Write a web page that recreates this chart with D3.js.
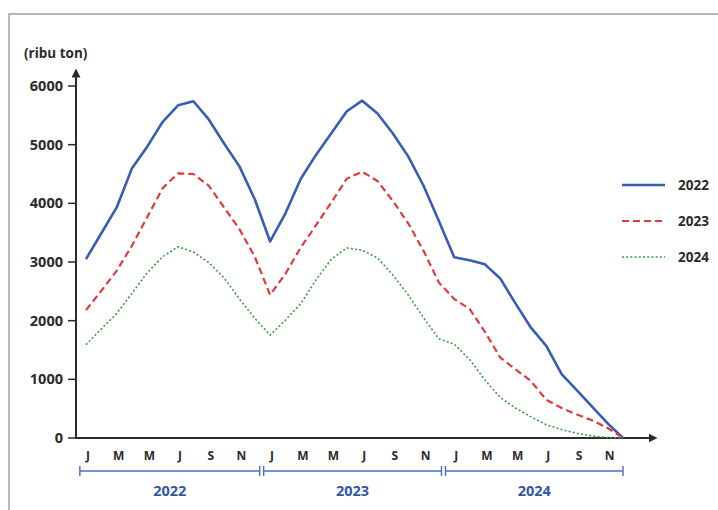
<!DOCTYPE html>
<html>
<head>
<meta charset="utf-8">
<script src="https://cdn.jsdelivr.net/npm/d3@7"></script>
<style>
  body { margin: 0; background: #fff; }
  svg { font-family: "Open Sans", "Noto Sans", sans-serif; }
  .tick-label { font-size: 14.5px; font-weight: 700; fill: #2b2b2b; }
  .legend-label { font-size: 13.5px; font-weight: 700; fill: #2b2b2b; }
  .month { font-size: 12px; font-weight: 700; fill: #2b2b2b; }
  .year { font-size: 14.5px; font-weight: 700; fill: #3556a8; }
</style>
</head>
<body>
<svg id="chart" width="718" height="510"></svg>
<script>
// monthly values, Jan 2022 .. Dec 2024 (ribu ton)
var monthLetters = ["J", "F", "M", "A", "M", "J", "J", "A", "S", "O", "N", "D"];
var years = ["2022", "2023", "2024"];
var yTicks = [0, 1000, 2000, 3000, 4000, 5000, 6000];

var series2022 = [3050, 3490, 3930, 4600, 4970, 5390, 5670, 5740, 5430, 5020, 4630, 4070,
                  3350, 3830, 4420, 4830, 5200, 5570, 5750, 5530, 5190, 4800, 4300, 3700,
                  3080, 3030, 2960, 2720, 2290, 1880, 1570, 1090, 810, 530, 250, 0];
var series2023 = [2180, 2510, 2850, 3280, 3770, 4260, 4510, 4500, 4300, 3930, 3560, 3090,
                  2440, 2800, 3250, 3630, 4020, 4420, 4540, 4380, 4040, 3660, 3190, 2650,
                  2370, 2200, 1810, 1370, 1170, 970, 650, 510, 400, 300, 170, 0];
var series2024 = [1590, 1860, 2120, 2470, 2820, 3090, 3260, 3170, 2990, 2730, 2370, 2040,
                  1755, 2010, 2290, 2700, 3050, 3240, 3200, 3070, 2780, 2440, 2050, 1690,
                  1600, 1340, 990, 690, 510, 360, 225, 145, 80, 35, 8, 0];

var seriesNames = ["2022", "2023", "2024"];
var seriesData = [series2022, series2023, series2024];
var seriesColors = ["#3a5cb8", "#e23a3e", "#3e9c45"];
var seriesDash = [null, "7,4", "2,2.2"];
var seriesWidth = [2.6, 2.2, 1.6];

var svg = d3.select("#chart");

// frame
svg.append("path")
    .attr("d", "M9,520 L9,14 L730,14")
    .attr("fill", "none")
    .attr("stroke", "#a0a0a0")
    .attr("stroke-width", 1.5);

var x = d3.scaleLinear().domain([0, 35]).range([86, 623]);
var y = d3.scaleLinear().domain([0, 6000]).range([438, 86]);

var defs = svg.append("defs");
defs.append("marker")
    .attr("id", "arrow")
    .attr("viewBox", "0 0 10 10")
    .attr("refX", 5).attr("refY", 5)
    .attr("markerWidth", 9).attr("markerHeight", 9)
    .attr("markerUnits", "userSpaceOnUse")
    .attr("orient", "auto")
    .append("path")
    .attr("d", "M0,0 L10,5 L0,10 z")
    .attr("fill", "#2b2b2b");

// y ticks
yTicks.forEach(function(t) {
    svg.append("line")
        .attr("x1", 68).attr("x2", 76)
        .attr("y1", y(t)).attr("y2", y(t))
        .attr("stroke", "#2b2b2b").attr("stroke-width", 1.5);
    svg.append("text")
        .attr("class", "tick-label")
        .attr("x", 63).attr("y", y(t) + 5)
        .attr("text-anchor", "end")
        .text(t);
});

svg.append("text")
    .attr("x", 24).attr("y", 58)
    .attr("font-size", 13.5).attr("font-weight", 700)
    .attr("fill", "#2b2b2b")
    .text("(ribu ton)");

// axes with arrows
svg.append("line")
    .attr("x1", 76).attr("y1", 439).attr("x2", 76).attr("y2", 73)
    .attr("stroke", "#2b2b2b").attr("stroke-width", 2)
    .attr("marker-end", "url(#arrow)");
svg.append("line")
    .attr("x1", 75).attr("y1", 438).attr("x2", 653).attr("y2", 438)
    .attr("stroke", "#2b2b2b").attr("stroke-width", 2)
    .attr("marker-end", "url(#arrow)");

// month labels
d3.range(36).forEach(function(i) {
    if (i % 2 == 0) {
        svg.append("text")
            .attr("class", "month")
            .attr("x", x(i) + 2).attr("y", 460)
            .attr("text-anchor", "middle")
            .text(monthLetters[i % 12]);
    }
});

// year brackets
var bounds = [-0.4, 11.45, 23.3, 35];
years.forEach(function(yr, k) {
    var x0 = x(bounds[k]) + (k > 0 ? 2 : 0);
    var x1 = x(bounds[k + 1]) - (k < 2 ? 2 : 0);
    var g = svg.append("g").attr("stroke", "#4a6cc4").attr("stroke-width", 1.4);
    g.append("line").attr("x1", x0).attr("x2", x1).attr("y1", 471).attr("y2", 471);
    g.append("line").attr("x1", x0).attr("x2", x0).attr("y1", 466).attr("y2", 476);
    g.append("line").attr("x1", x1).attr("x2", x1).attr("y1", 466).attr("y2", 476);
    svg.append("text")
        .attr("class", "year")
        .attr("x", (x0 + x1) / 2).attr("y", 496)
        .attr("text-anchor", "middle")
        .text(yr);
});

// lines
var line = d3.line()
    .x(function(d, i) { return x(i); })
    .y(function(d) { return y(d); });

seriesData.forEach(function(data, k) {
    svg.append("path")
        .datum(data)
        .attr("d", line)
        .attr("fill", "none")
        .attr("stroke", seriesColors[k])
        .attr("stroke-width", seriesWidth[k])
        .attr("stroke-dasharray", seriesDash[k])
        .attr("stroke-linejoin", "round");
});

// legend
seriesNames.forEach(function(name, k) {
    var ly = 185 + k * 36;
    svg.append("line")
        .attr("x1", 622).attr("x2", 665)
        .attr("y1", ly).attr("y2", ly)
        .attr("stroke", seriesColors[k])
        .attr("stroke-width", seriesWidth[k])
        .attr("stroke-dasharray", seriesDash[k]);
    svg.append("text")
        .attr("class", "legend-label")
        .attr("x", 678).attr("y", ly + 5)
        .text(name);
});
</script>
</body>
</html>
